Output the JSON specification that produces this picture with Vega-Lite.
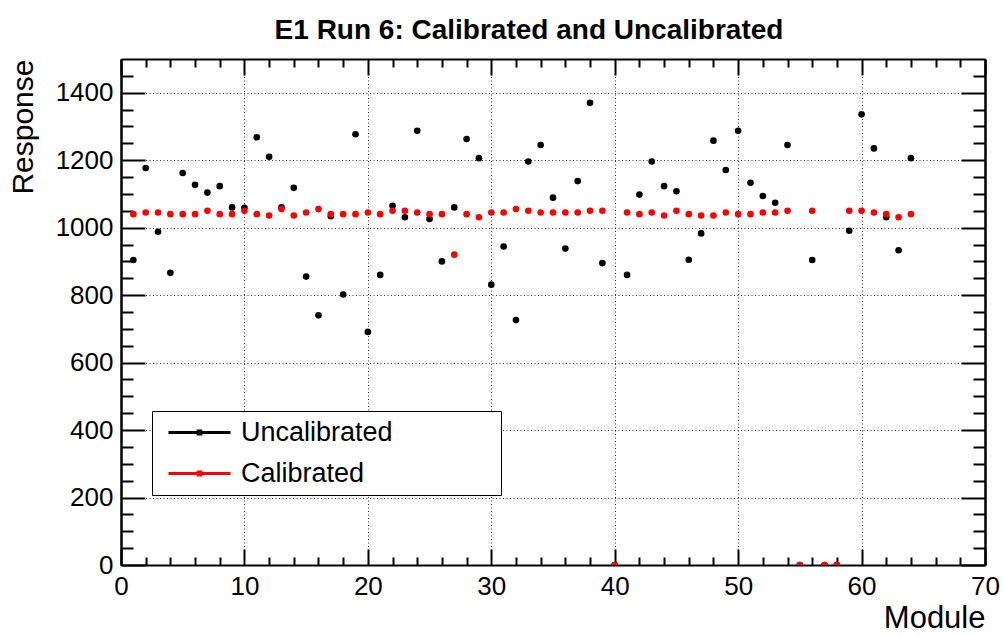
{
  "$schema": "https://vega.github.io/schema/vega-lite/v6.json",
  "autosize": {"type": "none"},
  "width": 864,
  "height": 506,
  "padding": {"left": 121, "top": 59, "right": 18, "bottom": 70},
  "background": "white",
  "title": {
    "text": "E1 Run 6: Calibrated and Uncalibrated",
    "font": "Liberation Sans",
    "fontSize": 28,
    "fontWeight": "bold",
    "color": "black",
    "anchor": "middle",
    "dx": -24,
    "offset": 13
  },
  "config": {
    "view": {"stroke": null},
    "axis": {
      "labelFont": "Liberation Sans",
      "titleFont": "Liberation Sans",
      "labelColor": "black",
      "titleColor": "black",
      "domainColor": "black",
      "tickColor": "black",
      "labelFontSize": 26,
      "titleFontSize": 30,
      "titleFontWeight": "normal"
    }
  },
  "data": {"values": [
    {"module":1,"series":"Uncalibrated","response":904},{"module":2,"series":"Uncalibrated","response":1177},{"module":3,"series":"Uncalibrated","response":988},{"module":4,"series":"Uncalibrated","response":866},{"module":5,"series":"Uncalibrated","response":1162},{"module":6,"series":"Uncalibrated","response":1127},{"module":7,"series":"Uncalibrated","response":1104},{"module":8,"series":"Uncalibrated","response":1123},{"module":9,"series":"Uncalibrated","response":1060},{"module":10,"series":"Uncalibrated","response":1059},
    {"module":11,"series":"Uncalibrated","response":1268},{"module":12,"series":"Uncalibrated","response":1210},{"module":13,"series":"Uncalibrated","response":1060},{"module":14,"series":"Uncalibrated","response":1118},{"module":15,"series":"Uncalibrated","response":855},{"module":16,"series":"Uncalibrated","response":740},{"module":17,"series":"Uncalibrated","response":1034},{"module":18,"series":"Uncalibrated","response":802},{"module":19,"series":"Uncalibrated","response":1277},{"module":20,"series":"Uncalibrated","response":691},
    {"module":21,"series":"Uncalibrated","response":860},{"module":22,"series":"Uncalibrated","response":1065},{"module":23,"series":"Uncalibrated","response":1031},{"module":24,"series":"Uncalibrated","response":1287},{"module":25,"series":"Uncalibrated","response":1026},{"module":26,"series":"Uncalibrated","response":900},{"module":27,"series":"Uncalibrated","response":1060},{"module":28,"series":"Uncalibrated","response":1263},{"module":29,"series":"Uncalibrated","response":1206},{"module":30,"series":"Uncalibrated","response":831},
    {"module":31,"series":"Uncalibrated","response":944},{"module":32,"series":"Uncalibrated","response":726},{"module":33,"series":"Uncalibrated","response":1196},{"module":34,"series":"Uncalibrated","response":1245},{"module":35,"series":"Uncalibrated","response":1089},{"module":36,"series":"Uncalibrated","response":938},{"module":37,"series":"Uncalibrated","response":1138},{"module":38,"series":"Uncalibrated","response":1370},{"module":39,"series":"Uncalibrated","response":895},{"module":40,"series":"Uncalibrated","response":0},
    {"module":41,"series":"Uncalibrated","response":860},{"module":42,"series":"Uncalibrated","response":1098},{"module":43,"series":"Uncalibrated","response":1196},{"module":44,"series":"Uncalibrated","response":1123},{"module":45,"series":"Uncalibrated","response":1108},{"module":46,"series":"Uncalibrated","response":905},{"module":47,"series":"Uncalibrated","response":983},{"module":48,"series":"Uncalibrated","response":1258},{"module":49,"series":"Uncalibrated","response":1171},{"module":50,"series":"Uncalibrated","response":1287},
    {"module":51,"series":"Uncalibrated","response":1133},{"module":52,"series":"Uncalibrated","response":1094},{"module":53,"series":"Uncalibrated","response":1074},{"module":54,"series":"Uncalibrated","response":1245},{"module":55,"series":"Uncalibrated","response":0},{"module":56,"series":"Uncalibrated","response":904},{"module":57,"series":"Uncalibrated","response":0},{"module":58,"series":"Uncalibrated","response":0},{"module":59,"series":"Uncalibrated","response":991},{"module":60,"series":"Uncalibrated","response":1336},
    {"module":61,"series":"Uncalibrated","response":1235},{"module":62,"series":"Uncalibrated","response":1031},{"module":63,"series":"Uncalibrated","response":933},{"module":64,"series":"Uncalibrated","response":1206},
    {"module":1,"series":"Calibrated","response":1040},{"module":2,"series":"Calibrated","response":1045},{"module":3,"series":"Calibrated","response":1045},{"module":4,"series":"Calibrated","response":1040},{"module":5,"series":"Calibrated","response":1040},{"module":6,"series":"Calibrated","response":1040},{"module":7,"series":"Calibrated","response":1050},{"module":8,"series":"Calibrated","response":1040},{"module":9,"series":"Calibrated","response":1040},{"module":10,"series":"Calibrated","response":1050},
    {"module":11,"series":"Calibrated","response":1040},{"module":12,"series":"Calibrated","response":1036},{"module":13,"series":"Calibrated","response":1055},{"module":14,"series":"Calibrated","response":1036},{"module":15,"series":"Calibrated","response":1045},{"module":16,"series":"Calibrated","response":1055},{"module":17,"series":"Calibrated","response":1040},{"module":18,"series":"Calibrated","response":1040},{"module":19,"series":"Calibrated","response":1040},{"module":20,"series":"Calibrated","response":1045},
    {"module":21,"series":"Calibrated","response":1040},{"module":22,"series":"Calibrated","response":1050},{"module":23,"series":"Calibrated","response":1050},{"module":24,"series":"Calibrated","response":1045},{"module":25,"series":"Calibrated","response":1040},{"module":26,"series":"Calibrated","response":1040},{"module":27,"series":"Calibrated","response":920},{"module":28,"series":"Calibrated","response":1040},{"module":29,"series":"Calibrated","response":1031},{"module":30,"series":"Calibrated","response":1045},
    {"module":31,"series":"Calibrated","response":1045},{"module":32,"series":"Calibrated","response":1055},{"module":33,"series":"Calibrated","response":1050},{"module":34,"series":"Calibrated","response":1045},{"module":35,"series":"Calibrated","response":1045},{"module":36,"series":"Calibrated","response":1045},{"module":37,"series":"Calibrated","response":1045},{"module":38,"series":"Calibrated","response":1050},{"module":39,"series":"Calibrated","response":1050},{"module":40,"series":"Calibrated","response":0},
    {"module":41,"series":"Calibrated","response":1045},{"module":42,"series":"Calibrated","response":1040},{"module":43,"series":"Calibrated","response":1045},{"module":44,"series":"Calibrated","response":1036},{"module":45,"series":"Calibrated","response":1050},{"module":46,"series":"Calibrated","response":1040},{"module":47,"series":"Calibrated","response":1036},{"module":48,"series":"Calibrated","response":1036},{"module":49,"series":"Calibrated","response":1045},{"module":50,"series":"Calibrated","response":1040},
    {"module":51,"series":"Calibrated","response":1040},{"module":52,"series":"Calibrated","response":1045},{"module":53,"series":"Calibrated","response":1045},{"module":54,"series":"Calibrated","response":1050},{"module":55,"series":"Calibrated","response":0},{"module":56,"series":"Calibrated","response":1050},{"module":57,"series":"Calibrated","response":0},{"module":58,"series":"Calibrated","response":0},{"module":59,"series":"Calibrated","response":1050},{"module":60,"series":"Calibrated","response":1050},
    {"module":61,"series":"Calibrated","response":1045},{"module":62,"series":"Calibrated","response":1040},{"module":63,"series":"Calibrated","response":1031},{"module":64,"series":"Calibrated","response":1040}
  ]},
  "resolve": {"axis": {"x": "independent", "y": "independent"}},
  "layer": [
    {
      "mark": {"type": "point", "opacity": 0},
      "encoding": {
        "x": {"field": "module", "type": "quantitative", "scale": {"domain": [0, 70], "nice": false, "zero": false},
          "axis": {"orient": "bottom", "values": [0,10,20,30,40,50,60,70], "format": "d", "tickSize": -16, "labelPadding": 24, "domainWidth": 2, "tickWidth": 2, "grid": true, "gridDash": [1, 2.5], "gridColor": "black", "gridOpacity": 0.8, "title": "Module", "titleAnchor": "end", "titleAlign": "right", "titlePadding": 4, "titleFontSize": 31, "labelFlush": false}},
        "y": {"field": "response", "type": "quantitative", "scale": {"domain": [0, 1500], "nice": false},
          "axis": {"orient": "left", "values": [0,200,400,600,800,1000,1200,1400], "format": "d", "tickSize": -24, "labelPadding": 32, "domainWidth": 2.5, "tickWidth": 2, "grid": true, "gridDash": [1, 2.5], "gridColor": "black", "gridOpacity": 0.8, "title": "Response", "titleAnchor": "end", "titleAlign": "right", "titlePadding": 17}}
      }
    },
    {
      "mark": {"type": "point", "opacity": 0},
      "encoding": {
        "x": {"field": "module", "type": "quantitative",
          "axis": {"orient": "bottom", "values": [2,4,6,8,12,14,16,18,22,24,26,28,32,34,36,38,42,44,46,48,52,54,56,58,62,64,66,68], "tickSize": -8, "tickWidth": 2, "labels": false, "domain": false, "grid": false, "title": null}},
        "y": {"field": "response", "type": "quantitative",
          "axis": {"orient": "left", "values": [50,100,150,250,300,350,450,500,550,650,700,750,850,900,950,1050,1100,1150,1250,1300,1350,1450], "tickSize": -12, "tickWidth": 2, "labels": false, "domain": false, "grid": false, "title": null}}
      }
    },
    {
      "mark": {"type": "point", "opacity": 0},
      "encoding": {
        "x": {"field": "module", "type": "quantitative",
          "axis": {"orient": "top", "values": [0,10,20,30,40,50,60,70], "tickSize": -16, "tickWidth": 2, "labels": false, "domainWidth": 2, "grid": false, "title": null}},
        "y": {"field": "response", "type": "quantitative",
          "axis": {"orient": "right", "values": [0,200,400,600,800,1000,1200,1400], "tickSize": -24, "tickWidth": 2, "labels": false, "domainWidth": 2.5, "grid": false, "title": null}}
      }
    },
    {
      "mark": {"type": "point", "opacity": 0},
      "encoding": {
        "x": {"field": "module", "type": "quantitative",
          "axis": {"orient": "top", "values": [2,4,6,8,12,14,16,18,22,24,26,28,32,34,36,38,42,44,46,48,52,54,56,58,62,64,66,68], "tickSize": -8, "tickWidth": 2, "labels": false, "domain": false, "grid": false, "title": null}},
        "y": {"field": "response", "type": "quantitative",
          "axis": {"orient": "right", "values": [50,100,150,250,300,350,450,500,550,650,700,750,850,900,950,1050,1100,1150,1250,1300,1350,1450], "tickSize": -12, "tickWidth": 2, "labels": false, "domain": false, "grid": false, "title": null}}
      }
    },
    {
      "mark": {"type": "point", "filled": true, "size": 44, "opacity": 1, "clip": true, "strokeWidth": 0},
      "encoding": {
        "x": {"field": "module", "type": "quantitative", "axis": null},
        "y": {"field": "response", "type": "quantitative", "axis": null},
        "color": {"field": "series", "type": "nominal",
          "scale": {"domain": ["Uncalibrated", "Calibrated"], "range": ["black", "red"]},
          "legend": {"title": null, "orient": "none", "legendX": 31, "legendY": 352,
            "strokeColor": "black", "fillColor": "white", "padding": 8,
            "labelFont": "Liberation Sans", "labelFontSize": 27, "labelColor": "black", "labelLimit": 400,
            "labelExpr": "datum.label + '\u2800\u2800\u2800\u2800\u2800'",
            "symbolType": "M-3.1,-0.15H3.1V0.15H-3.1Z M-0.28,-0.3H0.28V0.3H-0.28Z",
            "symbolSize": 400, "symbolStrokeWidth": 0, "symbolOpacity": 1,
            "symbolOffset": 26, "labelOffset": 28, "rowPadding": 13}},
        "order": {"field": "series", "sort": "descending"}
      }
    }
  ]
}
